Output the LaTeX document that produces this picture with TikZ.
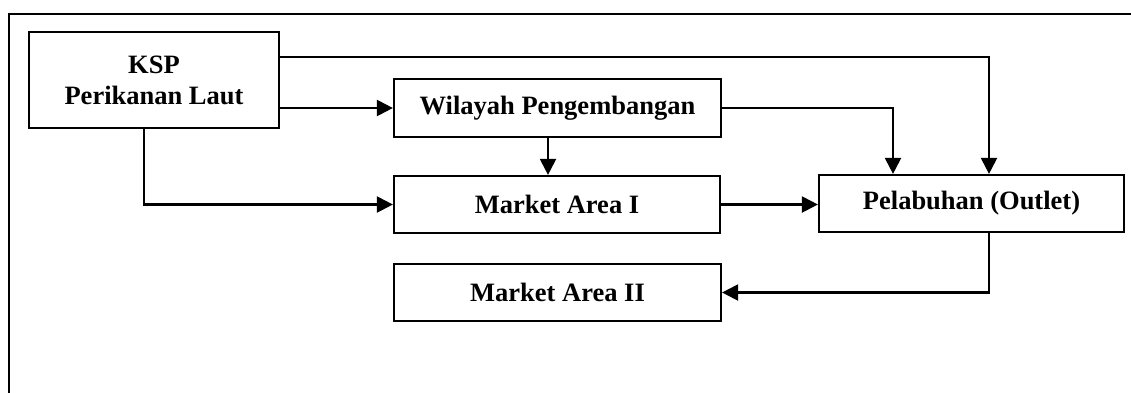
\documentclass[tikz,border=0pt]{standalone}
\usepackage{fontspec}
\setmainfont{Liberation Serif}
\usetikzlibrary{arrows.meta,calc}
\begin{document}
\begin{tikzpicture}[x=1pt,y=-1pt,
  box/.style={draw,line width=2.2pt,inner sep=0pt,align=center,
    font=\fontsize{26.5}{31}\selectfont\bfseries},
  arr/.style={line width=2.2pt,-{Triangle[length=16pt,width=16pt]}}]
\useasboundingbox (0,0) rectangle (1131,392);
% outer frame
\draw[line width=2.6pt] (1140,14) -- (9,14) -- (9,400);
% boxes
\node[box,minimum width=250pt,minimum height=96pt] (ksp) at (154,80) {KSP\\Perikanan Laut};
\node[box,minimum width=327pt,minimum height=58pt] (wil) at (557.5,108) {Wilayah Pengembangan};
\node[box,minimum width=326pt,minimum height=57pt] (ma1) at (557,204.5) {Market Area I};
\node[box,minimum width=305pt,minimum height=57pt] (pel) at (971.5,203.5) {Pelabuhan (Outlet)};
\node[box,minimum width=327pt,minimum height=57pt] (ma2) at (557.5,292.5) {Market Area II};
% connectors
\draw[arr] ([yshift=-26pt]ksp.north east) -| ([xshift=17.5pt]pel.north);
\draw[arr] (ksp.east |- wil.west) -- (wil.west);
\draw[arr] ([xshift=-10pt]ksp.south) |- (ma1.west);
\draw[arr] ([xshift=-9.5pt]wil.south) -- ([xshift=-9.5pt]wil.south |- ma1.north);
\draw[arr] (wil.east) -| ([xshift=-78.5pt]pel.north);
\draw[arr] (ma1.east) -- (ma1.east -| pel.west);
\draw[arr] ([xshift=17.5pt]pel.south) |- (ma2.east);
\end{tikzpicture}
\end{document}
